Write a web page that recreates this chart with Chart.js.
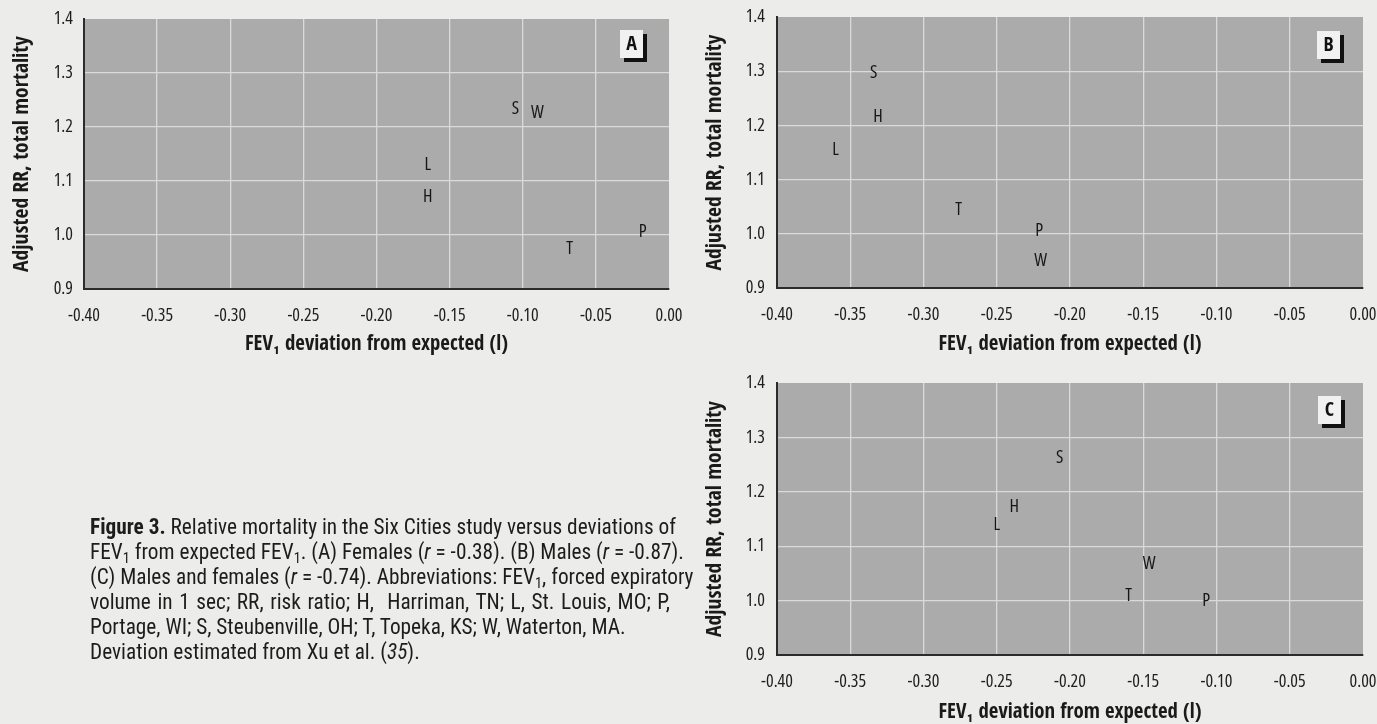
<!DOCTYPE html>
<html><head><meta charset="utf-8">
<script src="https://cdn.jsdelivr.net/npm/chart.js@4/dist/chart.umd.min.js"></script>
<style>
html,body{margin:0;padding:0;background:#ececeb;}
body{width:1377px;height:724px;position:relative;overflow:hidden;font-family:"Roboto Condensed",sans-serif;color:#1c1c1c;}
.cv{position:absolute;}
#caption{position:absolute;left:90px;top:514px;width:580px;font-size:21.3px;line-height:25px;}
#caption div{white-space:nowrap;}
#caption .j{text-align:justify;text-align-last:justify;}
sub{font-size:68%;vertical-align:-0.3em;line-height:0;}
</style></head>
<body>
<div class="cv" style="left:0;top:0;width:690px;height:360px;"><canvas id="cA"></canvas></div>
<div class="cv" style="left:690px;top:0;width:687px;height:360px;"><canvas id="cB"></canvas></div>
<div class="cv" style="left:690px;top:360px;width:687px;height:364px;"><canvas id="cC"></canvas></div>
<div id="caption">
<div class="j"><b>Figure 3.</b> Relative mortality in the Six Cities study versus deviations of</div>
<div class="j">FEV<sub>1</sub> from expected FEV<sub>1</sub>. (A) Females (<i>r</i> = -0.38). (B) Males (<i>r</i> = -0.87).</div>
<div class="j">(C) Males and females (<i>r</i> = -0.74). Abbreviations: FEV<sub>1</sub>, forced expiratory</div>
<div class="j">volume in 1 sec; RR, risk ratio; H,&nbsp; Harriman, TN; L, St. Louis, MO; P,</div>
<div>Portage, WI; S, Steubenville, OH; T, Topeka, KS; W, Waterton, MA.</div>
<div>Deviation estimated from Xu et al. (<i>35</i>).</div>
</div>
<script>
// ---- data ----
const cities = ['H', 'L', 'P', 'S', 'T', 'W'];
const femalesFEV = [-0.165, -0.165, -0.018, -0.105, -0.068, -0.090];
const femalesRR  = [1.070, 1.130, 1.006, 1.234, 0.975, 1.226];
const malesFEV   = [-0.331, -0.360, -0.221, -0.334, -0.276, -0.220];
const malesRR    = [1.216, 1.154, 1.005, 1.297, 1.045, 0.950];
const allFEV     = [-0.238, -0.250, -0.107, -0.207, -0.160, -0.146];
const allRR      = [1.172, 1.140, 1.000, 1.263, 1.009, 1.068];
const xTickLabels = ['-0.40', '-0.35', '-0.30', '-0.25', '-0.20', '-0.15', '-0.10', '-0.05', '0.00'];
const yTickLabels = ['0.9', '1.0', '1.1', '1.2', '1.3', '1.4'];
const xTitle = 'FEV\u2081 deviation from expected (l)';
const yTitle = 'Adjusted RR, total mortality';

const TICKFONT = '"Open Sans", "Roboto Condensed", sans-serif';   // used with font-stretch: condensed
const TITLEFONT = '"Open Sans Condensed", "Roboto Condensed", sans-serif';
const PLOT_BG = '#ababab';
const GRID = '#dadada';
const INK = '#161616';

// fit title font sizes to the reference text lengths
const mctx = document.createElement('canvas').getContext('2d');
function fitSize(font, text, target) { mctx.font = font.replace('SIZE', '100px'); return 100 * target / mctx.measureText(text).width; }
const xTitleSize = Math.min(24, fitSize('bold SIZE ' + TITLEFONT, xTitle, 263));
const yTitleSize = Math.min(22, fitSize('bold SIZE ' + TITLEFONT, yTitle, 236));

const bgPlugin = {
  id: 'plotbg',
  beforeDraw(chart) {
    const a = chart.chartArea, c = chart.ctx;
    c.save(); c.fillStyle = PLOT_BG; c.fillRect(a.left, a.top, a.right - a.left, a.bottom - a.top); c.restore();
  }
};
const letterPlugin = {
  id: 'letters',
  afterDatasetsDraw(chart) {
    const c = chart.ctx;
    c.save();
    c.font = 'condensed 18px ' + TICKFONT; c.fillStyle = INK; c.textAlign = 'center'; c.textBaseline = 'middle';
    chart.getDatasetMeta(0).data.forEach((el, i) => c.fillText(cities[i], el.x, el.y));
    c.restore();
  }
};
const panelPlugin = {
  id: 'panel',
  afterDraw(chart, args, opts) {
    const a = chart.chartArea, c = chart.ctx;
    const w = 23, h = 28, x = a.right - opts.dx, y = a.top + opts.dy;
    c.save();
    c.fillStyle = '#111'; c.fillRect(x + 4, y + 4, w, h);
    c.fillStyle = '#f1f1f1'; c.fillRect(x, y, w, h);
    c.font = 'bold 20px ' + TITLEFONT; c.fillStyle = '#111'; c.textAlign = 'center'; c.textBaseline = 'middle';
    c.fillText(opts.text, x + w / 2, y + h / 2 + 1);
    c.restore();
  }
};

function makeChart(id, xs, ys, letter, g) {
  const pts = xs.map((x, i) => ({ x: x, y: ys[i] }));
  return new Chart(document.getElementById(id), {
    type: 'scatter',
    data: { datasets: [{ data: pts, pointRadius: 0, pointHoverRadius: 0, showLine: false }] },
    plugins: [bgPlugin, letterPlugin, panelPlugin],
    options: {
      responsive: true, maintainAspectRatio: false, animation: false,
      events: [],
      layout: { padding: { left: 0, right: g.padR, top: g.padT, bottom: 0 } },
      plugins: { legend: { display: false }, tooltip: { enabled: false },
                 panel: { text: letter, dx: g.boxDx, dy: g.boxDy } },
      scales: {
        x: {
          type: 'linear', min: -0.4, max: 0,
          afterFit: s => { s.height = g.xH; s.paddingLeft = 0; s.paddingRight = 0; },
          ticks: { stepSize: 0.05, padding: 16, color: '#1e1e1e', font: { family: TICKFONT, size: 18, weight: 'condensed' },
                   callback: (v, i) => xTickLabels[i], maxRotation: 0, autoSkip: false },
          grid: { drawTicks: false, lineWidth: 1.3,
                  color: ctx => (ctx.tick && Math.abs(ctx.tick.value) < 1e-9) ? 'rgba(0,0,0,0)' : GRID },
          border: { display: true, color: '#2b2b2b', width: 2 },
          title: { display: true, text: xTitle, color: '#1a1a1a',
                   font: { family: TITLEFONT, size: xTitleSize, weight: 'bold' }, padding: { top: 0, bottom: g.xTitlePad } }
        },
        y: {
          type: 'linear', min: 0.9, max: 1.4,
          afterFit: s => { s.width = g.yW; s.paddingTop = 0; s.paddingBottom = 0; },
          ticks: { stepSize: 0.1, padding: g.yTickPad, color: '#1e1e1e', font: { family: TICKFONT, size: 18, weight: 'condensed' },
                   callback: (v, i) => yTickLabels[i] },
          grid: { drawTicks: false, lineWidth: 1.3,
                  color: ctx => (ctx.tick && Math.abs(ctx.tick.value - 1.4) < 1e-9) ? 'rgba(0,0,0,0)' : GRID },
          border: { display: true, color: '#2b2b2b', width: 2 },
          title: { display: true, text: yTitle, color: '#1a1a1a',
                   font: { family: TITLEFONT, size: yTitleSize, weight: 'bold' },
                   padding: { top: g.yTitlePad, bottom: 0 } }
        }
      }
    }
  });
}

makeChart('cA', femalesFEV, femalesRR, 'A', { yW: 84, padR: 21, padT: 19, xH: 71, yTickPad: 11, yTitlePad: 9, xTitlePad: 3, boxDx: 49, boxDy: 11 });
makeChart('cB', malesFEV, malesRR, 'B', { yW: 87, padR: 14, padT: 17, xH: 72, yTickPad: 12, yTitlePad: 12, xTitlePad: 3, boxDx: 46, boxDy: 14 });
makeChart('cC', allFEV, allRR, 'C', { yW: 87, padR: 14, padT: 23, xH: 69, yTickPad: 12, yTitlePad: 12, xTitlePad: -1, boxDx: 45, boxDy: 13 });
</script>
</body></html>
